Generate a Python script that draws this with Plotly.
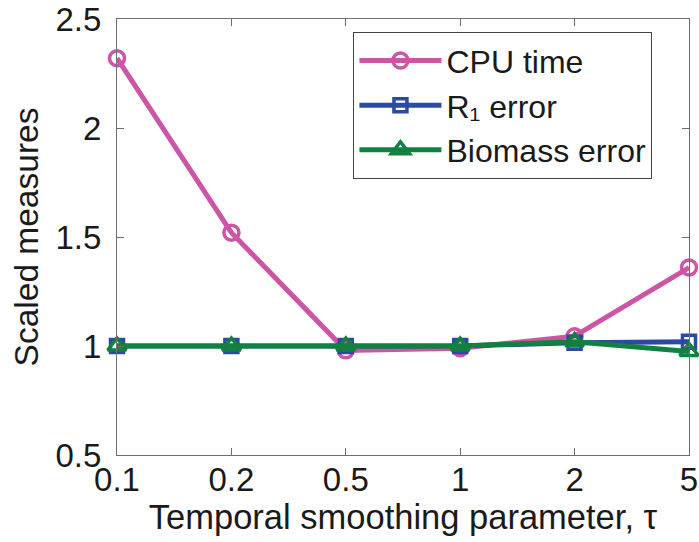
import plotly.graph_objects as go

# Temporal smoothing parameter values (equally spaced categories)
tau_labels = ["0.1", "0.2", "0.5", "1", "2", "5"]

# Scaled measures for each setting
cpu_time = [2.32, 1.52, 0.98, 0.99, 1.045, 1.36]
r1_error = [1.0, 1.0, 1.0, 1.0, 1.015, 1.02]
biomass_error = [1.0, 1.0, 1.0, 1.0, 1.02, 0.975]

series = [
    ("CPU time", cpu_time, "#CC55A5", "circle-open", 15),
    ("R₁ error", r1_error, "#2B4BA3", "square-open", 13),
    ("Biomass error", biomass_error, "#12813F", "triangle-up-open", 16),
]

FONT = "Liberation Sans, Arial, Helvetica, sans-serif"

fig = go.Figure()
for name, vals, color, symbol, size in series:
    fig.add_trace(go.Scatter(
        x=tau_labels, y=vals, name=name, mode="lines+markers",
        line=dict(color=color, width=5),
        marker=dict(symbol=symbol, size=size, color=color,
                    line=dict(color=color, width=3.5)),
        cliponaxis=False,
    ))

axis_common = dict(
    showline=True, linecolor="#6e6e6e", linewidth=1.2, mirror="ticks",
    ticks="inside", ticklen=7, tickcolor="#6e6e6e", tickwidth=1,
    showgrid=False, zeroline=False, automargin=False,
    tickfont=dict(family=FONT, size=33, color="#1a1a1a"),
)

fig.update_layout(
    width=699, height=542,
    margin=dict(l=117, r=10, t=19, b=87),
    paper_bgcolor="white", plot_bgcolor="white",
    font=dict(family=FONT, color="#1a1a1a"),
    showlegend=True,
    legend=dict(
        x=0.413, y=0.97, xanchor="left", yanchor="top",
        bgcolor="white", bordercolor="#444444", borderwidth=1.2,
        font=dict(family=FONT, size=32, color="#1a1a1a"),
        itemwidth=82, tracegroupgap=0,
    ),
    xaxis=dict(
        type="category", range=[0, 5],
        title=dict(text="Temporal smoothing parameter, τ",
                   font=dict(family=FONT, size=34.5, color="#1a1a1a"), standoff=0),
        ticklabelstandoff=-5,
        **axis_common,
    ),
    yaxis=dict(
        range=[0.5, 2.5], tickvals=[0.5, 1, 1.5, 2, 2.5],
        ticktext=["0.5", "1", "1.5", "2", "2.5"],
        title=dict(text="Scaled measures",
                   font=dict(family=FONT, size=33.5, color="#1a1a1a"), standoff=6),
        ticklabelstandoff=8,
        **axis_common,
    ),
)

fig.write_html("out.html")
